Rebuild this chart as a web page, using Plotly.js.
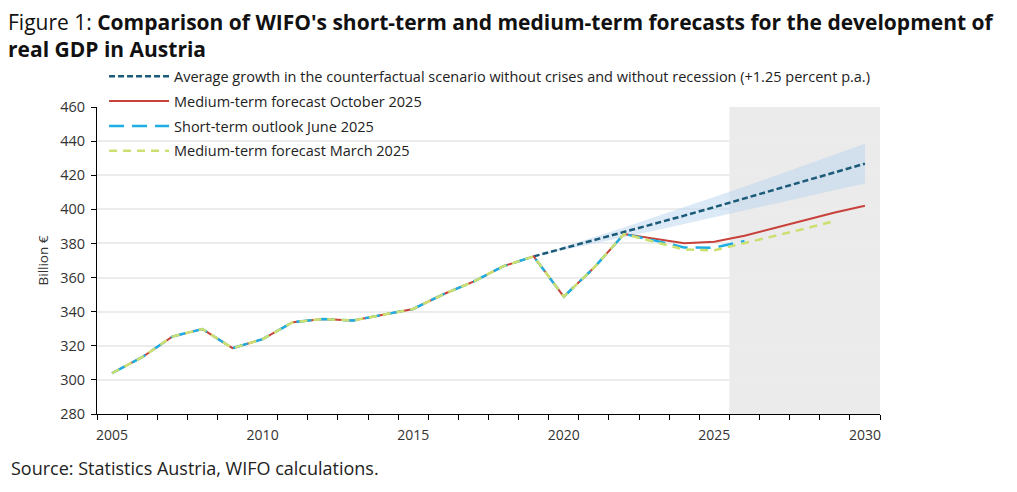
<!DOCTYPE html>
<html>
<head>
<meta charset="utf-8">
<script src="https://cdn.plot.ly/plotly-3.0.1.min.js"></script>
<style>html,body{margin:0;padding:0;background:#fff;}#chart{width:1017px;height:492px;}</style>
</head>
<body>
<div id="chart"></div>
<script>
// ---- data ----
var years = [2005,2006,2007,2008,2009,2010,2011,2012,2013,2014,2015,2016,2017,2018,2019,2020,2021,2022,2023,2024,2025,2026,2027,2028,2029,2030];

var medTermOct2025 = [303.9,313.3,325.4,329.8,318.6,323.9,333.8,335.7,334.8,338.1,341.6,350.2,357.6,366.7,372.4,348.8,365.7,385.5,382.6,380.1,381.0,384.5,389.1,393.7,398.1,402.1];
var shortTermJun2025Years = [2005,2006,2007,2008,2009,2010,2011,2012,2013,2014,2015,2016,2017,2018,2019,2020,2021,2022,2023,2024,2025,2026];
var shortTermJun2025 = [303.9,313.3,325.4,329.8,318.6,323.9,333.8,335.7,334.8,338.1,341.6,350.2,357.6,366.7,372.4,348.8,365.7,385.5,381.8,377.6,377.5,381.4];
var medTermMar2025Years = [2005,2006,2007,2008,2009,2010,2011,2012,2013,2014,2015,2016,2017,2018,2019,2020,2021,2022,2023,2024,2025,2026,2027,2028,2029];
var medTermMar2025 = [303.9,313.3,325.4,329.8,318.6,323.9,333.8,335.7,334.8,338.1,341.6,350.2,357.6,366.7,372.4,348.8,365.7,385.5,381.0,376.4,376.0,380.1,384.4,388.6,393.2];

var cfYears = [2019,2020,2021,2022,2023,2024,2025,2026,2027,2028,2029,2030];
var counterfactual = [372.4,377.1,381.8,386.6,391.4,396.3,401.3,406.3,411.4,416.5,421.7,426.8];
var bandUpper = [372.4,378.0,383.7,389.4,395.3,401.2,407.2,413.3,419.5,425.8,432.2,438.5];
var bandLower = [372.4,376.1,379.9,383.7,387.5,391.4,395.3,399.3,403.3,407.3,411.4,415.2];

var forecastStart = 2025.5, forecastEnd = 2030.5;
var labelYears = [2005,2010,2015,2020,2025,2030];

var legendNames = [
  "Average growth in the counterfactual scenario without crises and without recession (+1.25 percent p.a.)",
  "Medium-term forecast October 2025",
  "Short-term outlook June 2025",
  "Medium-term forecast March 2025"
];

var FONT = "Open Sans, Lato, sans-serif";

var traces = [
  {x: cfYears, y: bandLower, type:'scatter', mode:'lines', line:{width:0, color:'rgba(0,0,0,0)'}, showlegend:false, hoverinfo:'skip'},
  {x: cfYears, y: bandUpper, type:'scatter', mode:'lines', fill:'tonexty', fillcolor:'rgba(186,212,237,0.5)', line:{width:0, color:'rgba(0,0,0,0)'}, showlegend:false, hoverinfo:'skip'},
  {x: cfYears, y: counterfactual, type:'scatter', mode:'lines', name: legendNames[0], legendrank:1, legendgroup:'a',
   line:{color:'#1b5a78', width:2.5, dash:'6px,3px'}},
  {x: years, y: medTermOct2025, type:'scatter', mode:'lines', name: legendNames[1], legendrank:2, legendgroup:'b',
   line:{color:'#c8413b', width:2}},
  {x: shortTermJun2025Years, y: shortTermJun2025, type:'scatter', mode:'lines', name: legendNames[2], legendrank:3, legendgroup:'c',
   line:{color:'#1eaee3', width:2.5, dash:'15px,8px'}},
  {x: medTermMar2025Years, y: medTermMar2025, type:'scatter', mode:'lines', name: legendNames[3], legendrank:4, legendgroup:'d',
   line:{color:'#cbe070', width:2.5, dash:'8px,6px'}}
];

var layout = {
  width:1017, height:492,
  margin:{l:97, r:137, t:107, b:78},
  paper_bgcolor:'#fff', plot_bgcolor:'#fff',
  font:{family:FONT, size:13, color:'#222'},
  title:{
    text:"Figure 1: <b>Comparison of WIFO's short-term and medium-term forecasts for the development of<br>real GDP in Austria</b>",
    font:{family:FONT, size:21, color:'#111'},
    xref:'container', yref:'container', x:8/1017, xanchor:'left', y:1-30/492, yanchor:'top'
  },
  xaxis:{
    range:[2004.5, 2030.5], tickmode:'array', tickvals: labelYears, ticktext: labelYears.map(String),
    ticks:'', showgrid:false, zeroline:false, showline:true, linecolor:'#000', linewidth:1,
    tickfont:{size:14, color:'#333'}, ticklabelstandoff:8,
    minor:{tickmode:'linear', tick0:2004.5, dtick:1, ticks:'outside', ticklen:5, tickcolor:'#000', showgrid:false}
  },
  yaxis:{
    range:[280,460], dtick:20, tick0:280, ticks:'outside', ticklen:5, tickcolor:'#000',
    showline:true, linecolor:'#000', linewidth:1, zeroline:false,
    gridcolor:'#ececec', gridwidth:2,
    tickfont:{size:14.5, color:'#333'}, ticklabelstandoff:3,
    title:{text:'Billion €', font:{size:13.5, color:'#333'}, standoff:8}
  },
  shapes:[{type:'rect', xref:'x', yref:'y', x0:forecastStart, x1:forecastEnd, y0:280, y1:460, fillcolor:'#ebebeb', line:{width:0}, layer:'below'}],
  legend:{
    x:0.009, y:1.152, xanchor:'left', yanchor:'top', bgcolor:'rgba(0,0,0,0)',
    font:{size:14.5, color:'#222'}, traceorder:'grouped', tracegroupgap:3, itemwidth:60
  },
  annotations:[{
    text:'Source: Statistics Austria, WIFO calculations.', xref:'paper', yref:'paper',
    x:-88/783, y:-(468-414)/307, xanchor:'left', yanchor:'middle', showarrow:false,
    font:{size:18, color:'#222'}
  }],
  showlegend:true
};

Plotly.newPlot('chart', traces, layout, {displayModeBar:false, staticPlot:true});
</script>
</body>
</html>
